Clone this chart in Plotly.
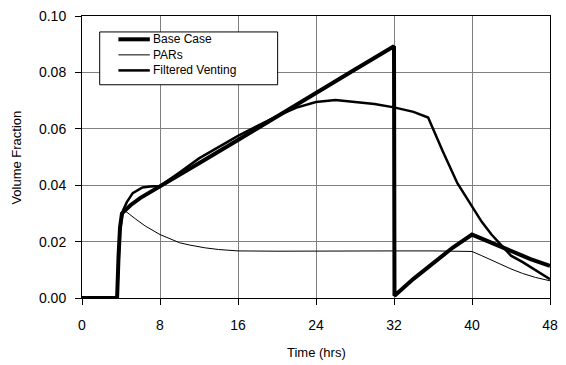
import plotly.graph_objects as go

# ---- data ----
base_t = [0, 3.6, 3.75, 3.9, 4.1, 4.5, 5, 6, 7, 8, 12, 16, 20, 24, 28, 32, 32.05, 34, 36, 38, 40, 42, 44, 46, 48]
base_v = [0, 0, 0.015, 0.025, 0.030, 0.0315, 0.033, 0.0355, 0.0375, 0.0395, 0.0478, 0.056, 0.0642,
          0.0725, 0.081, 0.0893, 0.0008, 0.0068, 0.0125, 0.0178, 0.0225, 0.0195, 0.0165, 0.0138, 0.0114]

pars_t = [0, 3.6, 3.75, 3.9, 4.2, 4.5, 5.5, 6.5, 8, 9, 10, 11, 12.6, 14, 16, 20, 24, 28, 32, 36,
          40, 41, 41.8, 43, 44, 45.2, 46.5, 48]
pars_v = [0, 0, 0.012, 0.024, 0.030, 0.0307, 0.028, 0.0255, 0.0225, 0.021, 0.0196, 0.0188, 0.0178,
          0.0172, 0.0167, 0.0166, 0.0167, 0.0167, 0.0167, 0.0167, 0.0165, 0.015, 0.0137, 0.0118,
          0.0103, 0.0087, 0.0073, 0.0061]

fv_t = [0, 3.6, 3.75, 3.9, 4.2, 4.6, 5.2, 6.2, 7, 8, 10, 12, 14, 16, 18, 20, 22, 24, 26, 28, 30,
        32, 34, 35.5, 37, 38.5, 40, 41, 42, 43.2, 44, 45.2, 46, 47, 48]
fv_v = [0, 0, 0.012, 0.024, 0.031, 0.034, 0.0372, 0.0392, 0.0395, 0.0397, 0.0445, 0.0495, 0.0535,
        0.0575, 0.061, 0.0645, 0.0675, 0.0695, 0.0702, 0.0695, 0.0688, 0.0676, 0.066, 0.064,
        0.052, 0.0407, 0.0325, 0.027, 0.0225, 0.0178, 0.015, 0.0127, 0.011, 0.0088, 0.0067]

series_names = ["Base Case", "PARs", "Filtered Venting"]
x_ticks = [0, 8, 16, 24, 32, 40, 48]
y_ticks = [0.00, 0.02, 0.04, 0.06, 0.08, 0.10]
x_title = "Time (hrs)"
y_title = "Volume Fraction"

FONT = "Liberation Sans, Arial, sans-serif"
widths = [4, 1, 2.5]

fig = go.Figure()
for t, v, name, w in zip([base_t, pars_t, fv_t], [base_v, pars_v, fv_v], series_names, widths):
    fig.add_trace(go.Scatter(x=t, y=v, mode="lines", name=name,
                             line=dict(color="black", width=w), showlegend=False))

fig.update_layout(
    width=566, height=365,
    margin=dict(l=82, r=8, t=15, b=67),
    paper_bgcolor="white", plot_bgcolor="white",
    font=dict(family=FONT, color="black"),
    xaxis=dict(range=[0, 48], tickvals=x_ticks, ticktext=[str(x) for x in x_ticks],
               showgrid=True, gridcolor="#808080", gridwidth=1,
               showline=True, linecolor="black", linewidth=1, mirror=True,
               ticks="outside", ticklen=6, tickcolor="black", ticklabelstandoff=8,
               tickfont=dict(size=14), zeroline=False),
    yaxis=dict(range=[0, 0.10], tickvals=y_ticks, ticktext=[f"{y:.2f}" for y in y_ticks],
               showgrid=True, gridcolor="#808080", gridwidth=1,
               showline=True, linecolor="black", linewidth=1, mirror=True,
               ticks="outside", ticklen=6, tickcolor="black", ticklabelstandoff=6,
               tickfont=dict(size=14), zeroline=False),
)

# pixel -> paper helpers
pl, pr, pt, pb = 82, 558, 15, 298
def px(x):
    return (x - pl) / (pr - pl)
def py(y):
    return (pb - y) / (pb - pt)

# axis titles
fig.add_annotation(xref="paper", yref="paper", x=px(320), y=py(353), text=x_title,
                   showarrow=False, xanchor="center", yanchor="middle",
                   font=dict(size=13, family=FONT, color="black"))
fig.add_annotation(xref="paper", yref="paper", x=px(15), y=py(157), text=y_title,
                   showarrow=False, xanchor="center", yanchor="middle", textangle=-90,
                   font=dict(size=13, family=FONT, color="black"))

# manual legend: box, line samples, and one multi-line text block
LEG_FS = 12
line_h = LEG_FS * 1.3
mid = 54
fig.add_shape(type="rect", xref="paper", yref="paper",
              x0=px(100), x1=px(281), y0=py(84), y1=py(31),
              line=dict(color="black", width=1), fillcolor="white", layer="above")
for i, w in enumerate(widths):
    yy = mid + (i - 1) * line_h
    fig.add_shape(type="line", xref="paper", yref="paper",
                  x0=px(119), x1=px(151), y0=py(yy), y1=py(yy),
                  line=dict(color="black", width=w), layer="above")
fig.add_annotation(xref="paper", yref="paper", x=px(153), y=py(mid),
                   text="<br>".join(series_names), showarrow=False, align="left",
                   xanchor="left", yanchor="middle",
                   font=dict(size=LEG_FS, family=FONT, color="black"), borderpad=0)

fig.write_html("out.html")
